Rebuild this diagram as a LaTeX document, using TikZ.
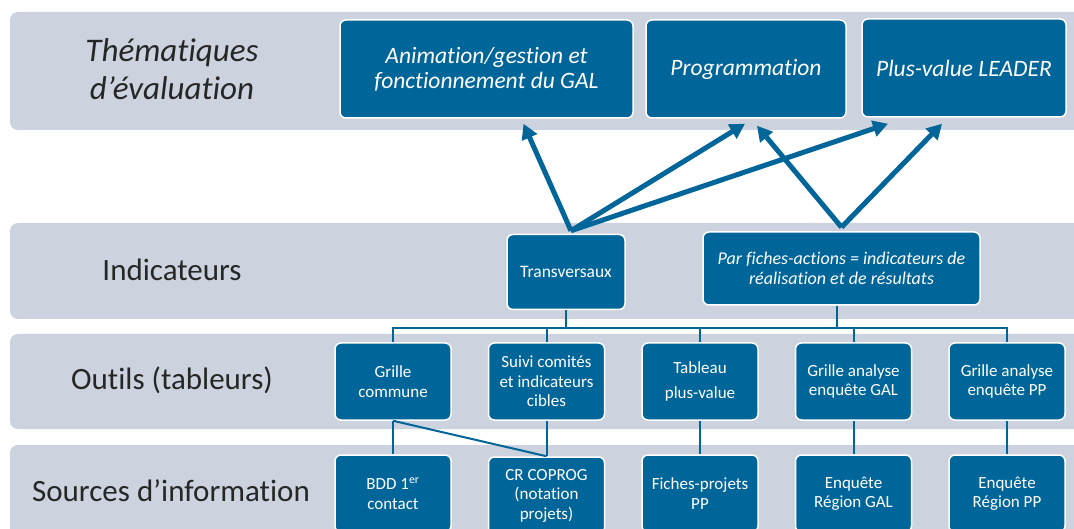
\documentclass[tikz,border=0pt]{standalone}
\usepackage{fontspec}
\setmainfont{Carlito}[Ligatures=NoCommon]
\usetikzlibrary{arrows.meta}
\definecolor{boxblue}{RGB}{0,101,153}
\definecolor{bandgrey}{RGB}{204,211,222}

\begin{document}
\begin{tikzpicture}[x=1pt, y=-1pt,
    bluebox/.style={rectangle, rounded corners=6pt, fill=boxblue, draw=white, line width=1.5pt, text=white, align=center, inner sep=0pt},
    topbox/.style={bluebox, minimum height=98pt, font=\fontsize{23.5}{25}\selectfont\itshape},
    toolbox/.style={bluebox, minimum width=116pt, minimum height=77pt, font=\fontsize{17}{19.5}\selectfont},
    rowlabel/.style={font=\fontsize{31}{37}\selectfont, align=center, text=black!85},
    arr/.style={draw=boxblue, line width=5pt, -{Triangle[length=15pt,width=16pt]}},
    link/.style={draw=boxblue, line width=2pt}]
\useasboundingbox (0,0) rectangle (1074,529);
\clip (0,0) rectangle (1074,529);

% bandes
\fill[bandgrey, rounded corners=8pt] (10,12) rectangle (1100,130);
\fill[bandgrey, rounded corners=8pt] (10,223) rectangle (1100,319);
\fill[bandgrey, rounded corners=8pt] (10,334) rectangle (1100,429);
\fill[bandgrey, rounded corners=8pt] (10,445) rectangle (1100,560);

\node[rowlabel, font=\fontsize{33}{38}\selectfont\itshape] (them) at (172,69) {Thématiques\\d’évaluation};
\node[rowlabel] (indic) at (172,270) {Indicateurs};
\node[rowlabel] (outils) at (172,380) {Outils (tableurs)};
\node[rowlabel] (sources) at (171,491) {Sources d’information};

% thematiques
\node[topbox, minimum width=293pt] (anim) at (486.5,69) {Animation/gestion et\\fonctionnement du GAL};
\node[topbox, minimum width=200pt] (prog) at (746,69) {Programmation};
\node[topbox, minimum width=204pt] (plus) at (964,68) {Plus-value LEADER};

% indicateurs
\node[bluebox, minimum width=118pt, minimum height=75pt, font=\fontsize{17.5}{20}\selectfont] (trans) at (566,272) {Transversaux};
\node[bluebox, minimum width=277pt, minimum height=73pt, font=\fontsize{18}{20}\selectfont\itshape] (fiches) at (841.5,268.5) {Par fiches-actions = indicateurs de\\réalisation et de résultats};

% outils
\node[toolbox] (grille) at (393,381.5) {Grille\\commune};
\node[toolbox] (suivi) at (546.5,381.5) {Suivi comités\\et indicateurs\\cibles};
\node[toolbox] (tableau) at (700,381.5) {Tableau\\[6pt]plus-value};
\node[toolbox] (analgal) at (853.5,381.5) {Grille analyse\\enquête GAL};
\node[toolbox] (analpp) at (1007,381.5) {Grille analyse\\enquête PP};

% sources
\node[toolbox] (bdd) at (393,493.5) {BDD 1\textsuperscript{er}\\contact};
\node[toolbox] (coprog) at (546.5,495.5) {CR COPROG\\(notation\\projets)};
\node[toolbox] (fichespp) at (700,493.5) {Fiches-projets\\PP};
\node[toolbox] (enqgal) at (853.5,493.5) {Enquête\\Région GAL};
\node[toolbox] (enqpp) at (1007,493.5) {Enquête\\Région PP};

% fleches
\draw[arr] ([xshift=5pt,yshift=3pt]trans.north) -- ([xshift=37pt,yshift=-5pt]anim.south);
\draw[arr] ([xshift=5pt,yshift=3pt]trans.north) -- ([xshift=-1pt,yshift=-5pt]prog.south);
\draw[arr] ([xshift=5pt,yshift=3pt]trans.north) -- ([xshift=-76pt,yshift=-6pt]plus.south);
\draw[arr] ([yshift=4pt]fiches.north) -- ([xshift=11pt,yshift=-7pt]prog.south);
\draw[arr] ([yshift=4pt]fiches.north) -- ([xshift=-22pt,yshift=-6pt]plus.south);

% liaisons
\coordinate (bus) at (0,328);
\draw[link] (grille.north) |- (bus -| analpp.north) -- (analpp.north);
\draw[link] (suivi.north) -- (suivi.north |- bus);
\draw[link] (tableau.north) -- (tableau.north |- bus);
\draw[link] (analgal.north) -- (analgal.north |- bus);
\draw[link] (trans.south) -- (trans.south |- bus);
\draw[link] ([xshift=-5pt]fiches.south) -- ([xshift=-5pt]fiches.south |- bus);

\draw[link] (grille.south) -- (bdd.north);
\draw[link] (grille.south) -- (coprog.north);
\draw[link] (suivi.south) -- (coprog.north);
\draw[link] (tableau.south) -- (fichespp.north);
\draw[link] (analgal.south) -- (enqgal.north);
\draw[link] (analpp.south) -- (enqpp.north);
\end{tikzpicture}
\end{document}
